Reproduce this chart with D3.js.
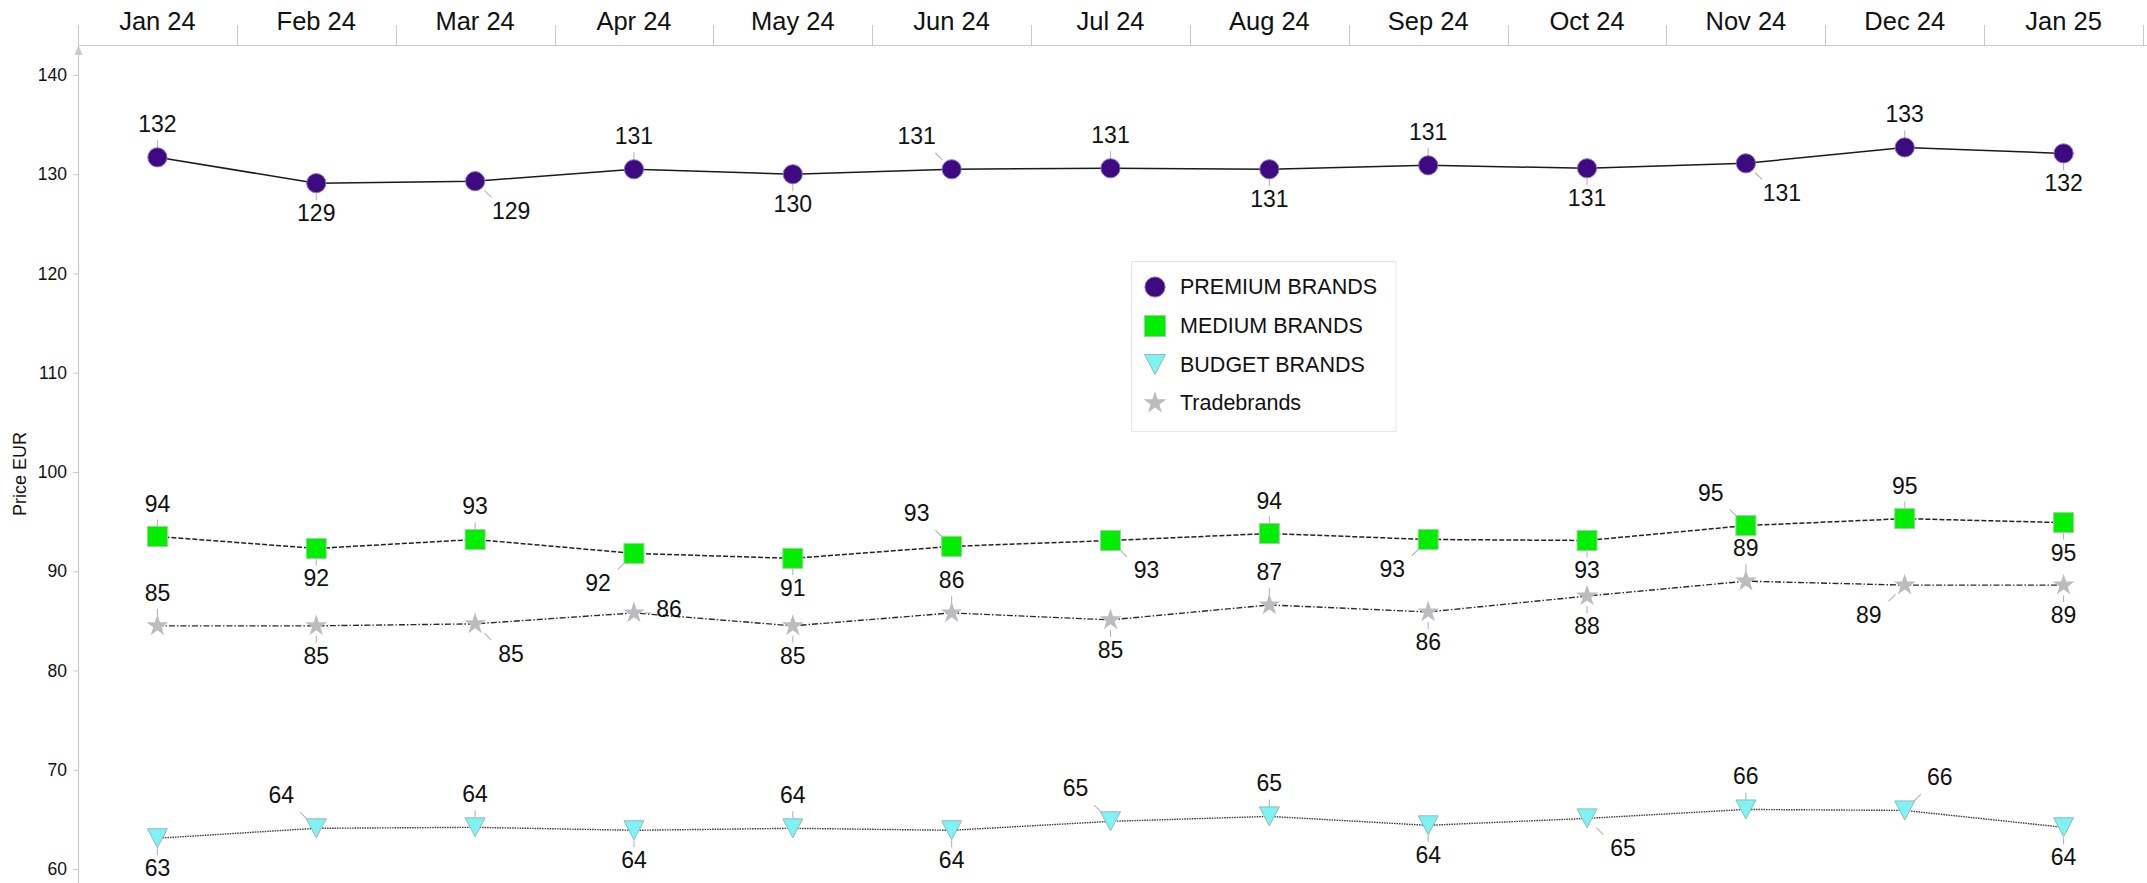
<!DOCTYPE html>
<html>
<head>
<meta charset="utf-8">
<script src="https://cdn.jsdelivr.net/npm/d3@7"></script>
<style>
  html, body { margin: 0; padding: 0; background: #fff; }
  svg { display: block; font-family: "Liberation Sans", Arial, sans-serif; }
</style>
</head>
<body>
<svg id="chart" width="2147" height="883"></svg>
<script>
// ---- Data ----
const months = ["Jan 24","Feb 24","Mar 24","Apr 24","May 24","Jun 24","Jul 24","Aug 24","Sep 24","Oct 24","Nov 24","Dec 24","Jan 25"];
const premium = [131.7,129.1,129.3,130.5,130.0,130.5,130.6,130.5,130.9,130.6,131.1,132.7,132.1];
const medium  = [93.5,92.3,93.2,91.8,91.3,92.5,93.1,93.8,93.2,93.1,94.6,95.3,94.9];
const budget  = [63.1,64.1,64.2,63.9,64.1,63.9,64.8,65.3,64.4,65.1,66.0,65.9,64.2];
const trade   = [84.5,84.5,84.7,85.8,84.5,85.8,85.1,86.6,85.9,87.5,89.0,88.6,88.6];
const yTicks  = [60,70,80,90,100,110,120,130,140];
const seriesNames = ["PREMIUM BRANDS","MEDIUM BRANDS","BUDGET BRANDS","Tradebrands"];
// label placement per point (compass direction from marker)
const premiumPos = ["N","S","SE","N","S","NW","N","S","N","S","SE","N","S"];
const mediumPos  = ["N","S","N","SW","S","NW","SE","N","SW","S","NW","N","S"];
const budgetPos  = ["S","NW","N","S","N","S","NW","N","S","SE","N","NE","S"];
const tradePos   = ["N","S","SE","E","S","N","S","N","S","S","N","SW","S"];

// ---- Layout ----
const W = 2147, H = 883;
const mLeft = 78, mRight = 2143, mTop = 45, mBottom = 883;
const svg = d3.select("#chart");

const x = d3.scaleBand().domain(months).range([mLeft, mRight]).padding(0);
const y = d3.scaleLinear().domain([58.59, 143.02]).range([mBottom, mTop]);
const cx = m => x(m) + x.bandwidth() / 2;

const axisColor = "#c9c9cf";
const textColor = "#111";

// ---- Top category axis ----
const topAxis = svg.append("g").attr("transform", `translate(0,${mTop})`)
  .call(d3.axisTop(x).tickSize(0).tickPadding(0));
topAxis.select(".domain").remove();
topAxis.selectAll("text")
  .attr("y", -24).attr("dy", "0.35em")
  .attr("font-size", 25.5).attr("fill", textColor)
  .attr("font-family", "Liberation Sans, Arial, sans-serif");
svg.append("line").attr("x1", mLeft).attr("x2", W).attr("y1", mTop + 0.5).attr("y2", mTop + 0.5)
  .attr("stroke", axisColor).attr("stroke-width", 1.2);
const bounds = months.map(m => x(m)).concat([x(months[months.length - 1]) + x.bandwidth()]);
svg.append("g").selectAll("line").data(bounds).join("line")
  .attr("x1", d => Math.round(d) + 0.5).attr("x2", d => Math.round(d) + 0.5)
  .attr("y1", 25).attr("y2", mTop)
  .attr("stroke", axisColor).attr("stroke-width", 1);

// ---- Left value axis ----
const leftAxis = svg.append("g").attr("transform", `translate(${mLeft},0)`)
  .call(d3.axisLeft(y).tickValues(yTicks).tickSize(5).tickPadding(6).tickFormat(d3.format("d")));
leftAxis.select(".domain").remove();
leftAxis.selectAll(".tick line").attr("stroke", axisColor);
leftAxis.selectAll("text").attr("font-size", 17.5).attr("fill", textColor)
  .attr("font-family", "Liberation Sans, Arial, sans-serif");
svg.append("line").attr("x1", mLeft + 0.5).attr("x2", mLeft + 0.5).attr("y1", mTop + 8).attr("y2", mBottom)
  .attr("stroke", axisColor).attr("stroke-width", 1.2);
svg.append("path")
  .attr("d", `M${mLeft + 0.5},${mTop} L${mLeft - 3.5},${mTop + 10} L${mLeft + 4.5},${mTop + 10} Z`)
  .attr("fill", axisColor);
svg.append("text")
  .attr("transform", `translate(26,474) rotate(-90)`)
  .attr("text-anchor", "middle")
  .attr("font-size", 18).attr("fill", textColor)
  .text("Price EUR");

// ---- Marker shapes ----
const starPath = r => d3.symbol().type(d3.symbolStar).size(r * r / 0.8908130915292852)();
const shapes = {
  circle: (g, s) => g.append("circle").attr("r", 9.6 * s),
  square: (g, s) => g.append("rect").attr("x", -10 * s).attr("y", -10 * s).attr("width", 20 * s).attr("height", 20 * s),
  tri: (g, s) => g.append("path").attr("d", `M${-10 * s},${-9.5 * s} L${10 * s},${-9.5 * s} L0,${9.5 * s} Z`),
  star: (g, s) => g.append("path").attr("d", starPath(11.5 * s))
};

const series = [
  { name: seriesNames[0], values: premium, pos: premiumPos, shape: "circle", fill: "#3d0a82", stroke: "#8a6fc0",
    line: "#1a1a1a", dash: null, lw: 1.5 },
  { name: seriesNames[1], values: medium, pos: mediumPos, shape: "square", fill: "#00ee00", stroke: "#9fcf9f",
    line: "#222", dash: "5,2", lw: 1.5 },
  { name: seriesNames[2], values: budget, pos: budgetPos, shape: "tri", fill: "#7ff3f3", stroke: "#93b9b9",
    line: "#3a3a3a", dash: "1.5,1", lw: 1.4 },
  { name: seriesNames[3], values: trade, pos: tradePos, shape: "star", fill: "#bcbcc0", stroke: "none",
    line: "#2a2a2a", dash: "6,2,1.5,2", lw: 1.4 }
];

const dirs = {
  N: [0, -1], S: [0, 1], E: [1, 0], W: [-1, 0],
  NE: [1, -1], NW: [-1, -1], SE: [1, 1], SW: [-1, 1]
};
const labelOffset = {
  N: [0, -33], S: [0, 30], E: [35, -4], W: [-35, -4],
  NE: [35, -33], NW: [-35, -33], SE: [36, 30], SW: [-36, 30]
};

const lineGen = d3.line().x((d, i) => cx(months[i])).y(d => y(d));

// lines
series.forEach(s => {
  svg.append("path").datum(s.values)
    .attr("d", lineGen)
    .attr("fill", "none")
    .attr("stroke", s.line)
    .attr("stroke-width", s.lw)
    .attr("stroke-dasharray", s.dash);
});

// leader lines + labels + markers
series.forEach(s => {
  const g = svg.append("g");
  s.values.forEach((v, i) => {
    const px = cx(months[i]), py = y(v);
    const p = s.pos[i];
    const d = dirs[p];
    const len = Math.hypot(d[0], d[1]);
    const ux = d[0] / len, uy = d[1] / len;
    const diag = d[0] !== 0 && d[1] !== 0;
    const r1 = diag ? 13 : 10, r2 = diag ? 23 : 17;
    g.append("line")
      .attr("x1", px + ux * r1).attr("y1", py + uy * r1)
      .attr("x2", px + ux * r2).attr("y2", py + uy * r2)
      .attr("stroke", "#b5b5b8").attr("stroke-width", 1.1);
  });
  s.values.forEach((v, i) => {
    const px = cx(months[i]), py = y(v);
    const mg = g.append("g").attr("transform", `translate(${px},${py})`);
    shapes[s.shape](mg, 1).attr("fill", s.fill).attr("stroke", s.stroke).attr("stroke-width", 1);
  });
  s.values.forEach((v, i) => {
    const px = cx(months[i]), py = y(v);
    const o = labelOffset[s.pos[i]];
    g.append("text")
      .attr("x", px + o[0]).attr("y", py + o[1])
      .attr("text-anchor", "middle").attr("dominant-baseline", "central")
      .attr("font-size", 23).attr("fill", textColor)
      .text(Math.round(v));
  });
});

// ---- Legend ----
const lg = svg.append("g");
lg.append("rect").attr("x", 1131.5).attr("y", 261.5).attr("width", 264.5).attr("height", 170)
  .attr("fill", "#fff").attr("stroke", "#e6e6e6").attr("stroke-width", 1);
const legendY = [287, 326, 364.5, 403];
series.forEach((s, i) => {
  const mg = lg.append("g").attr("transform", `translate(1155,${legendY[i]})`);
  shapes[s.shape](mg, 1.05).attr("fill", s.fill).attr("stroke", s.stroke).attr("stroke-width", 1);
  lg.append("text").attr("x", 1180).attr("y", legendY[i])
    .attr("dominant-baseline", "central")
    .attr("font-size", 21.5).attr("fill", textColor)
    .text(s.name);
});
</script>
</body>
</html>
